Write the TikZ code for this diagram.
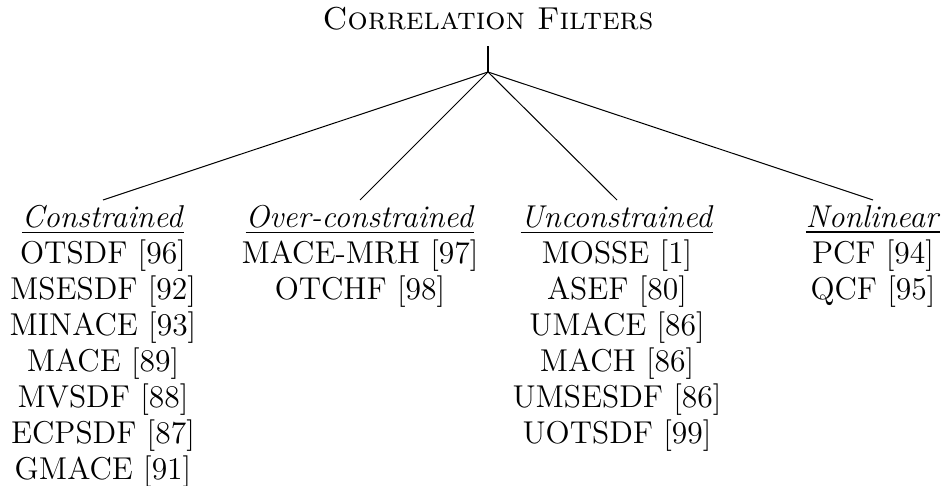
\documentclass[tikz,border=0pt]{standalone}
\usepackage{xcolor}
\usepackage{tikz}
\usepackage{amsmath}

\begin{document}
\begin{tikzpicture}[x=0.3945pt,y=-0.3945pt,
		leaf/.style={anchor=north,align=center,inner sep=2pt,font=\fontsize{12.45}{14.2}\selectfont}]
			\useasboundingbox (0,0) rectangle (944,486);
			\node[anchor=base,inner xsep=0pt,inner ysep=5.9pt,font=\fontsize{12.5}{14.2}\selectfont\scshape] (root) at (488,30) {Correlation Filters};
			\coordinate (fork) at (488,72);
			\draw (root.south) -- (fork);
			\node[leaf] (cons) at (103,200) {\underline{\textit{Constrained}}\\OTSDF [96]\\MSESDF [92]\\MINACE [93]\\MACE [89]\\MVSDF [88]\\ECPSDF [87]\\GMACE [91]};
			\node[leaf] (over) at (360,200) {\underline{\textit{Over-constrained}}\\MACE-MRH [97]\\OTCHF [98]};
			\node[leaf] (uncons) at (617,200) {\underline{\textit{Unconstrained}}\\MOSSE [1]\\ASEF [80]\\UMACE [86]\\MACH [86]\\UMSESDF [86]\\UOTSDF [99]};
			\node[leaf] (nonlin) at (873,200) {\underline{\textit{Nonlinear}}\\PCF [94]\\QCF [95]};
			\foreach \n in {cons,over,uncons,nonlin}{
				\draw (fork) -- (\n.north);
			}
		\end{tikzpicture}
\end{document}
